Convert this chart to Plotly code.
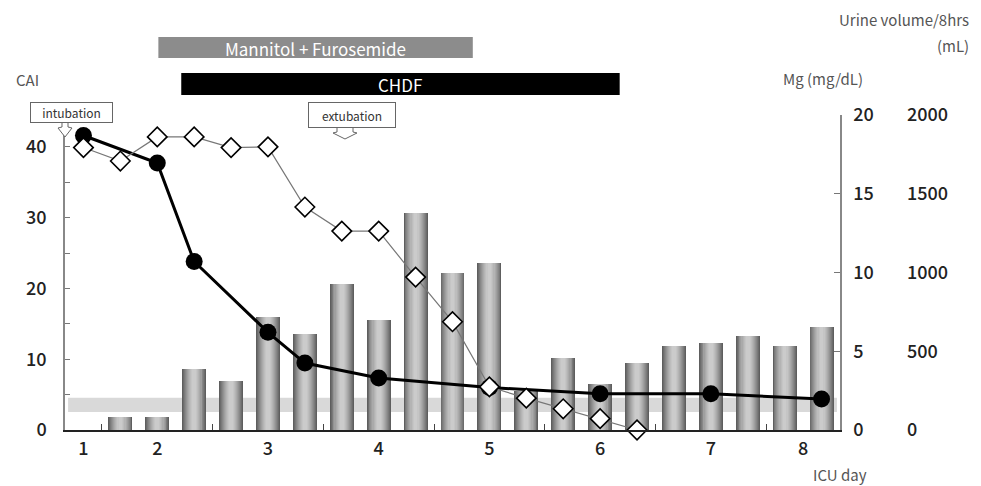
import plotly.graph_objects as go

# ---- data (8-hour slots; slot 0 = ICU day 1 first shift) ----
urine_slots = list(range(1, 21))
urine_ml = [80, 80, 390, 310, 720, 610, 930, 700, 1380, 1000,
            1060, 250, 460, 290, 425, 533, 552, 597, 533, 654]

mg_slots = [0, 2, 3, 5, 6, 8, 11, 14, 17, 20]
mg_vals = [18.7, 16.95, 10.7, 6.2, 4.25, 3.3, 2.7, 2.3, 2.3, 1.97]

cai_slots = list(range(0, 16))
cai_vals = [39.9, 38.0, 41.4, 41.4, 39.9, 40.0, 31.5, 28.1, 28.1,
            21.6, 15.3, 6.1, 4.5, 3.0, 1.6, 0.0]

day_label_pos = [0, 2, 5, 8, 11, 14, 17, 19.5]
day_labels = ["1", "2", "3", "4", "5", "6", "7", "8"]
day_boundaries = [0.5, 3.5, 6.5, 9.5, 12.5, 15.5, 18.5]

band_mg = [1.15, 2.05]          # shaded reference band (Mg axis)
mannitol = [2.03, 10.55]        # treatment spans (slot units)
chdf = [2.65, 14.53]

W, H = 981, 486
ML, MR, MT, MB = 65, 77, 115, 56
PW = W - ML - MR
PH = H - MT - MB
XDOM = 775 / PW

def fx(px):
    return (px - ML) / PW

def fy(py):
    return (H - MB - py) / PH

FONT = "Noto Sans CJK JP"
fig = go.Figure()

# cylinder-shaded bars via overlaid narrowing bars (main y = urine)
layers = [(0.65, "#5e5e5e"), (0.60, "#6c6c6c"), (0.55, "#7a7a7a"),
          (0.50, "#878787"), (0.45, "#939393"), (0.40, "#9f9f9f"),
          (0.34, "#aaaaaa"), (0.28, "#b4b4b4"), (0.22, "#bdbdbd"),
          (0.16, "#c5c5c5"), (0.10, "#cbcbcb")]
for w, c in layers:
    fig.add_trace(go.Bar(x=urine_slots, y=urine_ml, width=w, yaxis="y",
                         marker=dict(color=c, line=dict(width=0)),
                         hoverinfo="skip", showlegend=False))

fig.add_trace(go.Scatter(x=mg_slots, y=mg_vals, yaxis="y2", mode="lines+markers",
                         line=dict(color="black", width=3),
                         marker=dict(symbol="circle", size=17, color="black"),
                         showlegend=False))
fig.add_trace(go.Scatter(x=cai_slots, y=cai_vals, yaxis="y3", mode="lines+markers",
                         line=dict(color="#777777", width=1.2),
                         marker=dict(symbol="diamond", size=15, color="white",
                                     line=dict(color="black", width=1.6)),
                         cliponaxis=False, showlegend=False))

shapes = []
shapes.append(dict(type="rect", xref="x domain", yref="y2", x0=0.004, x1=0.996,
                   y0=band_mg[0], y1=band_mg[1], fillcolor="#d9d9d9",
                   line=dict(width=0), layer="below"))
shapes.append(dict(type="rect", xref="x", yref="paper", x0=mannitol[0], x1=mannitol[1],
                   y0=fy(58), y1=fy(37), fillcolor="#8c8c8c", line=dict(width=0),
                   layer="below"))
shapes.append(dict(type="rect", xref="x", yref="paper", x0=chdf[0], x1=chdf[1],
                   y0=fy(95), y1=fy(73), fillcolor="black", line=dict(width=0),
                   layer="below"))

def arrow_path(cx, ytop, sw, hw, yneck, ytip):
    pts = [(cx - sw, ytop), (cx - sw, yneck), (cx - hw, yneck + 1), (cx, ytip),
           (cx + hw, yneck + 1), (cx + sw, yneck), (cx + sw, ytop)]
    return "M " + " L ".join(f"{fx(a):.5f},{fy(b):.5f}" for a, b in pts)

shapes.append(dict(type="path", xref="paper", yref="paper",
                   path=arrow_path(65, 122, 3, 7, 127, 137),
                   fillcolor="white", line=dict(color="#666", width=1)))
shapes.append(dict(type="path", xref="paper", yref="paper",
                   path=arrow_path(345, 127, 8, 12, 132, 139),
                   fillcolor="white", line=dict(color="#666", width=1)))

def A(x, y, text, font, xanchor="center", xref="paper", **kw):
    d = dict(x=x, xref=xref, y=y, yref="paper", text=text, showarrow=False,
             xanchor=xanchor, yanchor="middle", font=font)
    d.update(kw)
    return d

ann = []
wfont = dict(family=FONT, size=17, color="white")
ann.append(A((mannitol[0] + mannitol[1]) / 2, fy(48), "Mannitol + Furosemide", wfont, xref="x"))
ann.append(A((chdf[0] + chdf[1]) / 2, fy(85), "CHDF", wfont, xref="x"))
bfont = dict(family=FONT, size=12, color="#333")
ann.append(A(fx(71.5), fy(112.5), "intubation", bfont, bgcolor="white",
             bordercolor="#666", borderwidth=1, borderpad=2, width=77, height=15))
ann.append(A(fx(352), fy(115), "extubation", bfont, bgcolor="white",
             bordercolor="#666", borderwidth=1, borderpad=3, width=80, height=18))
tfont = dict(family=FONT, size=15, color="#555")
ann.append(A(fx(14), fy(80), "CAI", tfont, xanchor="left"))
ann.append(A(fx(781), fy(78), "Mg (mg/dL)", tfont, xanchor="left"))
ann.append(A(fx(971), fy(20), "Urine volume/8hrs", tfont, xanchor="right"))
ann.append(A(fx(971), fy(46), "(mL)", tfont, xanchor="right"))
ann.append(A(fx(811), fy(474), "ICU day", tfont, xanchor="left"))

tick_font = dict(family=FONT, size=18, color="#222", weight=500)
fig.update_layout(
    width=W, height=H, margin=dict(l=ML, r=MR, t=MT, b=MB),
    paper_bgcolor="white", plot_bgcolor="white", barmode="overlay", bargap=0,
    shapes=shapes, annotations=ann, showlegend=False,
    xaxis=dict(domain=[0, XDOM], range=[-0.5, 20.5], tickvals=day_label_pos,
               ticktext=day_labels, ticks="", showgrid=False, zeroline=False,
               showline=True, linecolor="#222", linewidth=1.5,
               tickfont=tick_font, ticklabelstandoff=2),
    xaxis2=dict(overlaying="x", matches="x", anchor="y", side="bottom",
                range=[-0.5, 20.5], tickvals=day_boundaries, ticks="inside",
                ticklen=6, tickcolor="#444", tickwidth=1, showticklabels=False,
                showgrid=False, zeroline=False, showline=False),
    yaxis=dict(anchor="free", position=1, side="right",
               range=[0, 2000], tickvals=[0, 500, 1000, 1500, 2000], ticks="",
               showgrid=False, zeroline=False, showline=False,
               tickfont=tick_font, ticklabelstandoff=2),
    yaxis2=dict(overlaying="y", anchor="x", side="right", range=[0, 20],
                tickvals=[0, 5, 10, 15, 20], ticks="inside", ticklen=6,
                tickcolor="#777", showgrid=False, zeroline=False, showline=True,
                linecolor="#888", linewidth=1.5, tickfont=tick_font,
                ticklabelstandoff=8),
    yaxis3=dict(overlaying="y", anchor="x", side="left", range=[0, 44.5],
                tickvals=list(range(0, 45, 5)),
                ticktext=["0", "", "10", "", "20", "", "30", "", "40"],
                ticks="inside", ticklen=5, tickcolor="#777", showgrid=False,
                zeroline=False, showline=True, linecolor="#888", linewidth=1.5,
                tickfont=tick_font, ticklabelstandoff=13),
)
fig.add_trace(go.Scatter(x=[0], y=[0], xaxis="x2", yaxis="y", mode="markers",
                         marker=dict(opacity=0), hoverinfo="skip", showlegend=False))

fig.write_html("out.html", config={"displayModeBar": False},
               post_script="document.body.style.margin='0';document.body.style.overflow='hidden';")
